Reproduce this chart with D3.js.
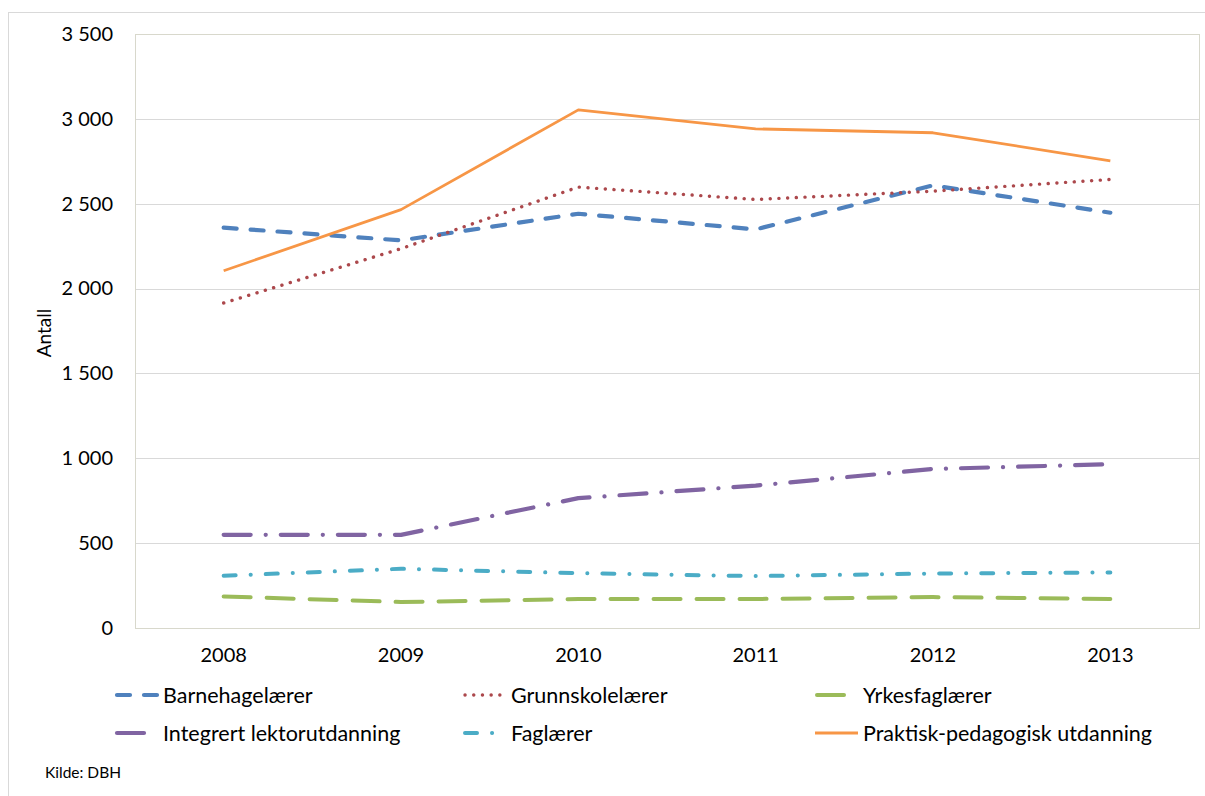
<!DOCTYPE html>
<html>
<head>
<meta charset="utf-8">
<script src="https://cdn.jsdelivr.net/npm/d3@7/dist/d3.min.js"></script>
<style>
  html, body { margin: 0; padding: 0; background: #fff; }
  svg { display: block; }
  text { font-family: Lato, "Open Sans", sans-serif; fill: #000; }
</style>
</head>
<body>
<svg id="chart" width="1205" height="796"></svg>
<script>
// Uteksaminerte lærere etter utdanning, 2008–2013
const years = ["2008", "2009", "2010", "2011", "2012", "2013"];
const barnehagelaerer = [2359, 2284, 2441, 2349, 2608, 2447];
const grunnskolelaerer = [1915, 2235, 2598, 2525, 2574, 2643];
const yrkesfaglaerer = [186, 153, 171, 171, 182, 171];
const integrertLektor = [549, 549, 765, 839, 937, 965];
const faglaerer = [308, 349, 323, 306, 321, 327];
const praktiskPed = [2105, 2465, 3053, 2941, 2918, 2753];
const yTicks = [0, 500, 1000, 1500, 2000, 2500, 3000, 3500];

const series = [
  { name: "Barnehagelærer", values: barnehagelaerer, color: "#4f81bd", width: 4.2, dash: "13,14", cap: "round" },
  { name: "Grunnskolelærer", values: grunnskolelaerer, color: "#ac484c", width: 3.4, dash: "0.1,8.6", cap: "round" },
  { name: "Yrkesfaglærer", values: yrkesfaglaerer, color: "#9bbb59", width: 4, dash: "27,16", cap: "round" },
  { name: "Integrert lektorutdanning", values: integrertLektor, color: "#8064a2", width: 4.2, dash: "27,15,0.1,15", cap: "round" },
  { name: "Faglærer", values: faglaerer, color: "#4bacc6", width: 4, dash: "12,15,0.1,15", cap: "round" },
  { name: "Praktisk-pedagogisk utdanning", values: praktiskPed, color: "#f79646", width: 2.8, dash: null, cap: "butt" }
];

const svg = d3.select("#chart");
const plot = { left: 135, right: 1199, top: 34, bottom: 628 };

// outer frame
svg.append("rect")
  .attr("x", 8.5).attr("y", 12.5)
  .attr("width", 1205).attr("height", 800)
  .attr("fill", "#fff").attr("stroke", "#d9d9d9");

const x = d3.scaleBand().domain(years).range([plot.left, plot.right]);
const y = d3.scaleLinear().domain([0, 3500]).range([plot.bottom, plot.top]);
const cx = d => x(d) + x.bandwidth() / 2;

// gridlines
svg.append("g")
  .selectAll("line")
  .data(yTicks.filter(t => t > 0 && t < 3500))
  .join("line")
  .attr("x1", plot.left).attr("x2", plot.right)
  .attr("y1", d => Math.round(y(d)) + 0.5).attr("y2", d => Math.round(y(d)) + 0.5)
  .attr("stroke", "#d9d9d9").attr("stroke-width", 1);

// plot area border
svg.append("rect")
  .attr("x", plot.left + 0.5).attr("y", plot.top + 0.5)
  .attr("width", plot.right - plot.left).attr("height", plot.bottom - plot.top)
  .attr("fill", "none").attr("stroke", "#d8d8cc").attr("stroke-width", 1);

// y axis labels
const fmt = v => d3.format(",")(v).replace(/,/g, "\u00a0");
const yAxis = d3.axisLeft(y).tickValues(yTicks).tickSize(0).tickPadding(22).tickFormat(fmt);
const gy = svg.append("g").attr("transform", `translate(${plot.left},0)`).call(yAxis);
gy.select(".domain").remove();
gy.selectAll("text").attr("font-size", 20).attr("font-family", "Lato, sans-serif").attr("fill", "#000");

// x axis labels
const xAxis = d3.axisBottom(x).tickSize(0).tickPadding(20);
const gx = svg.append("g").attr("transform", `translate(0,${plot.bottom})`).call(xAxis);
gx.select(".domain").remove();
gx.selectAll("text").attr("font-size", 20).attr("font-family", "Lato, sans-serif").attr("fill", "#000");

// y axis title
svg.append("text")
  .attr("transform", "translate(51,333) rotate(-90)")
  .attr("text-anchor", "middle")
  .attr("font-size", 19)
  .text("Antall");

// lines
const line = d3.line().x((d, i) => cx(years[i])).y(d => y(d));
svg.append("g")
  .selectAll("path")
  .data(series)
  .join("path")
  .attr("d", d => line(d.values))
  .attr("fill", "none")
  .attr("stroke", d => d.color)
  .attr("stroke-width", d => d.width)
  .attr("stroke-dasharray", d => d.dash)
  .attr("stroke-linecap", d => d.cap)
  .attr("stroke-linejoin", "round");

// legend: three columns, two rows
const legCols = [115, 463, 815];
const legRows = [695, 733];
const legend = svg.append("g")
  .selectAll("g")
  .data(series)
  .join("g")
  .attr("transform", (d, i) => `translate(${legCols[i % 3]},${legRows[Math.floor(i / 3)]})`);

legend.append("line")
  .attr("x1", d => d.dash ? 2 : 0).attr("x2", 43)
  .attr("y1", 0).attr("y2", 0)
  .attr("stroke", d => d.color)
  .attr("stroke-width", d => d.width)
  .attr("stroke-dasharray", d => d.dash)
  .attr("stroke-linecap", d => d.cap);

legend.append("text")
  .attr("x", 48)
  .attr("y", 0)
  .attr("dy", "0.36em")
  .attr("font-size", 21.5)
  .text(d => d.name);

// source
svg.append("text")
  .attr("x", 45).attr("y", 778)
  .attr("font-size", 15.5)
  .text("Kilde: DBH");
</script>
</body>
</html>
